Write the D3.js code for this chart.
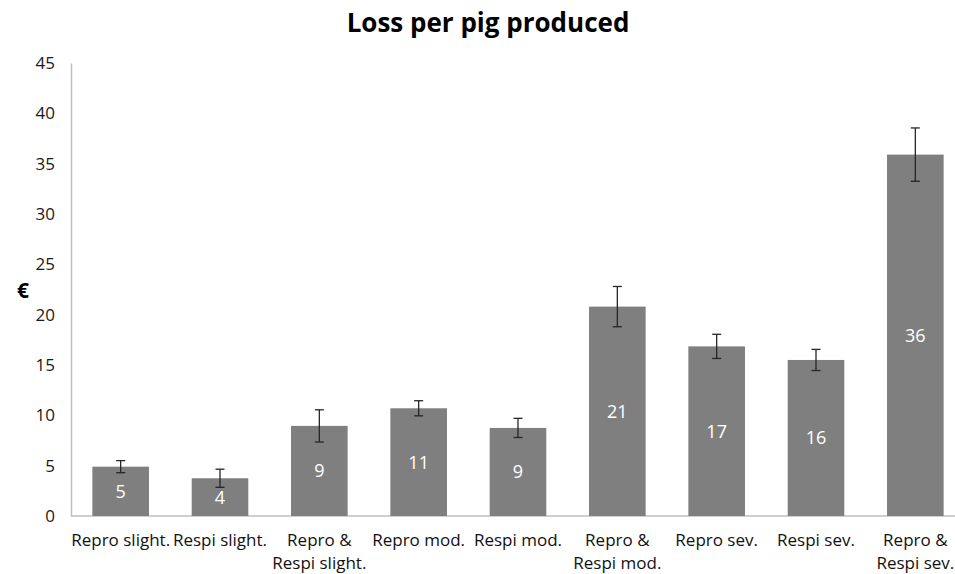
<!DOCTYPE html>
<html><head><meta charset="utf-8">
<script src="https://cdn.jsdelivr.net/npm/d3@7"></script>
<style>body{margin:0;background:#fff}svg{display:block}</style>
</head><body>
<svg id="c" width="955" height="574"></svg>
<script>
const categories = [["Repro slight."],["Respi slight."],["Repro &","Respi slight."],["Repro mod."],["Respi mod."],["Repro &","Respi mod."],["Repro sev."],["Respi sev."],["Repro &","Respi sev."]];
const values = [4.9, 3.75, 8.95, 10.7, 8.75, 20.8, 16.85, 15.5, 35.9];
const errors = [0.6, 0.9, 1.6, 0.75, 0.95, 2.0, 1.2, 1.05, 2.65];
const valueLabels = ["5","4","9","11","9","21","17","16","36"];
const yTicks = [0,5,10,15,20,25,30,35,40,45];

const font = "'Open Sans', sans-serif";
const svg = d3.select("#c");
const x = d3.scaleBand().domain(d3.range(categories.length)).range([71, 965]).paddingInner(0.43).paddingOuter(0.215);
const y = d3.scaleLinear().domain([0,45]).range([516, 63]);

svg.append("text").attr("x", 488).attr("y", 32).attr("text-anchor","middle")
  .attr("font-family", font).attr("font-weight","bold").attr("font-size", 26).attr("fill","#000")
  .text("Loss per pig produced");

const yAxis = svg.append("g").attr("transform","translate(71,0)")
  .call(d3.axisLeft(y).tickValues(yTicks).tickSize(0).tickPadding(16));
yAxis.select(".domain").attr("stroke","#bfbfbf").attr("stroke-width",1.5);
yAxis.selectAll("text").attr("font-family", font).attr("font-size", 17).attr("fill","#1a1a1a");

svg.append("line").attr("x1",71).attr("x2",955).attr("y1",y(0)).attr("y2",y(0)).attr("stroke","#bfbfbf").attr("stroke-width",1.5);

svg.append("text").attr("x", 23).attr("y", 298).attr("text-anchor","middle")
  .attr("font-family", font).attr("font-weight","bold").attr("font-size", 21).text("€");

const g = svg.append("g");
g.selectAll("rect").data(values).join("rect")
  .attr("x",(d,i)=>x(i)).attr("width",x.bandwidth())
  .attr("y",d=>y(d)).attr("height",d=>y(0)-y(d)).attr("fill","#7f7f7f");

const eb = g.selectAll("g.eb").data(values).join("g").attr("class","eb");
eb.append("line").attr("x1",(d,i)=>x(i)+x.bandwidth()/2).attr("x2",(d,i)=>x(i)+x.bandwidth()/2)
  .attr("y1",(d,i)=>y(d+errors[i])).attr("y2",(d,i)=>y(d-errors[i])).attr("stroke","#262626").attr("stroke-width",1.3);
[1,-1].forEach(s=>{
  eb.append("line").attr("x1",(d,i)=>x(i)+x.bandwidth()/2-4.5).attr("x2",(d,i)=>x(i)+x.bandwidth()/2+4.5)
    .attr("y1",(d,i)=>y(d+s*errors[i])).attr("y2",(d,i)=>y(d+s*errors[i])).attr("stroke","#262626").attr("stroke-width",1.3);
});

g.selectAll("text.vl").data(values).join("text").attr("class","vl")
  .attr("x",(d,i)=>x(i)+x.bandwidth()/2).attr("y",d=>(y(d)+y(0))/2).attr("dy","0.36em")
  .attr("text-anchor","middle").attr("font-family",font).attr("font-size",18).attr("fill","#fff")
  .text((d,i)=>valueLabels[i]);

const xl = svg.selectAll("text.xl").data(categories).join("text").attr("class","xl")
  .attr("x",(d,i)=>x(i)+x.bandwidth()/2).attr("y",546)
  .attr("text-anchor","middle").attr("font-family",font).attr("font-size",17).attr("fill","#111");
xl.selectAll("tspan").data(d=>d).join("tspan")
  .attr("x",function(){return this.parentNode.getAttribute("x");})
  .attr("dy",(d,j)=>j===0?0:23).text(d=>d);
</script>
</body></html>
